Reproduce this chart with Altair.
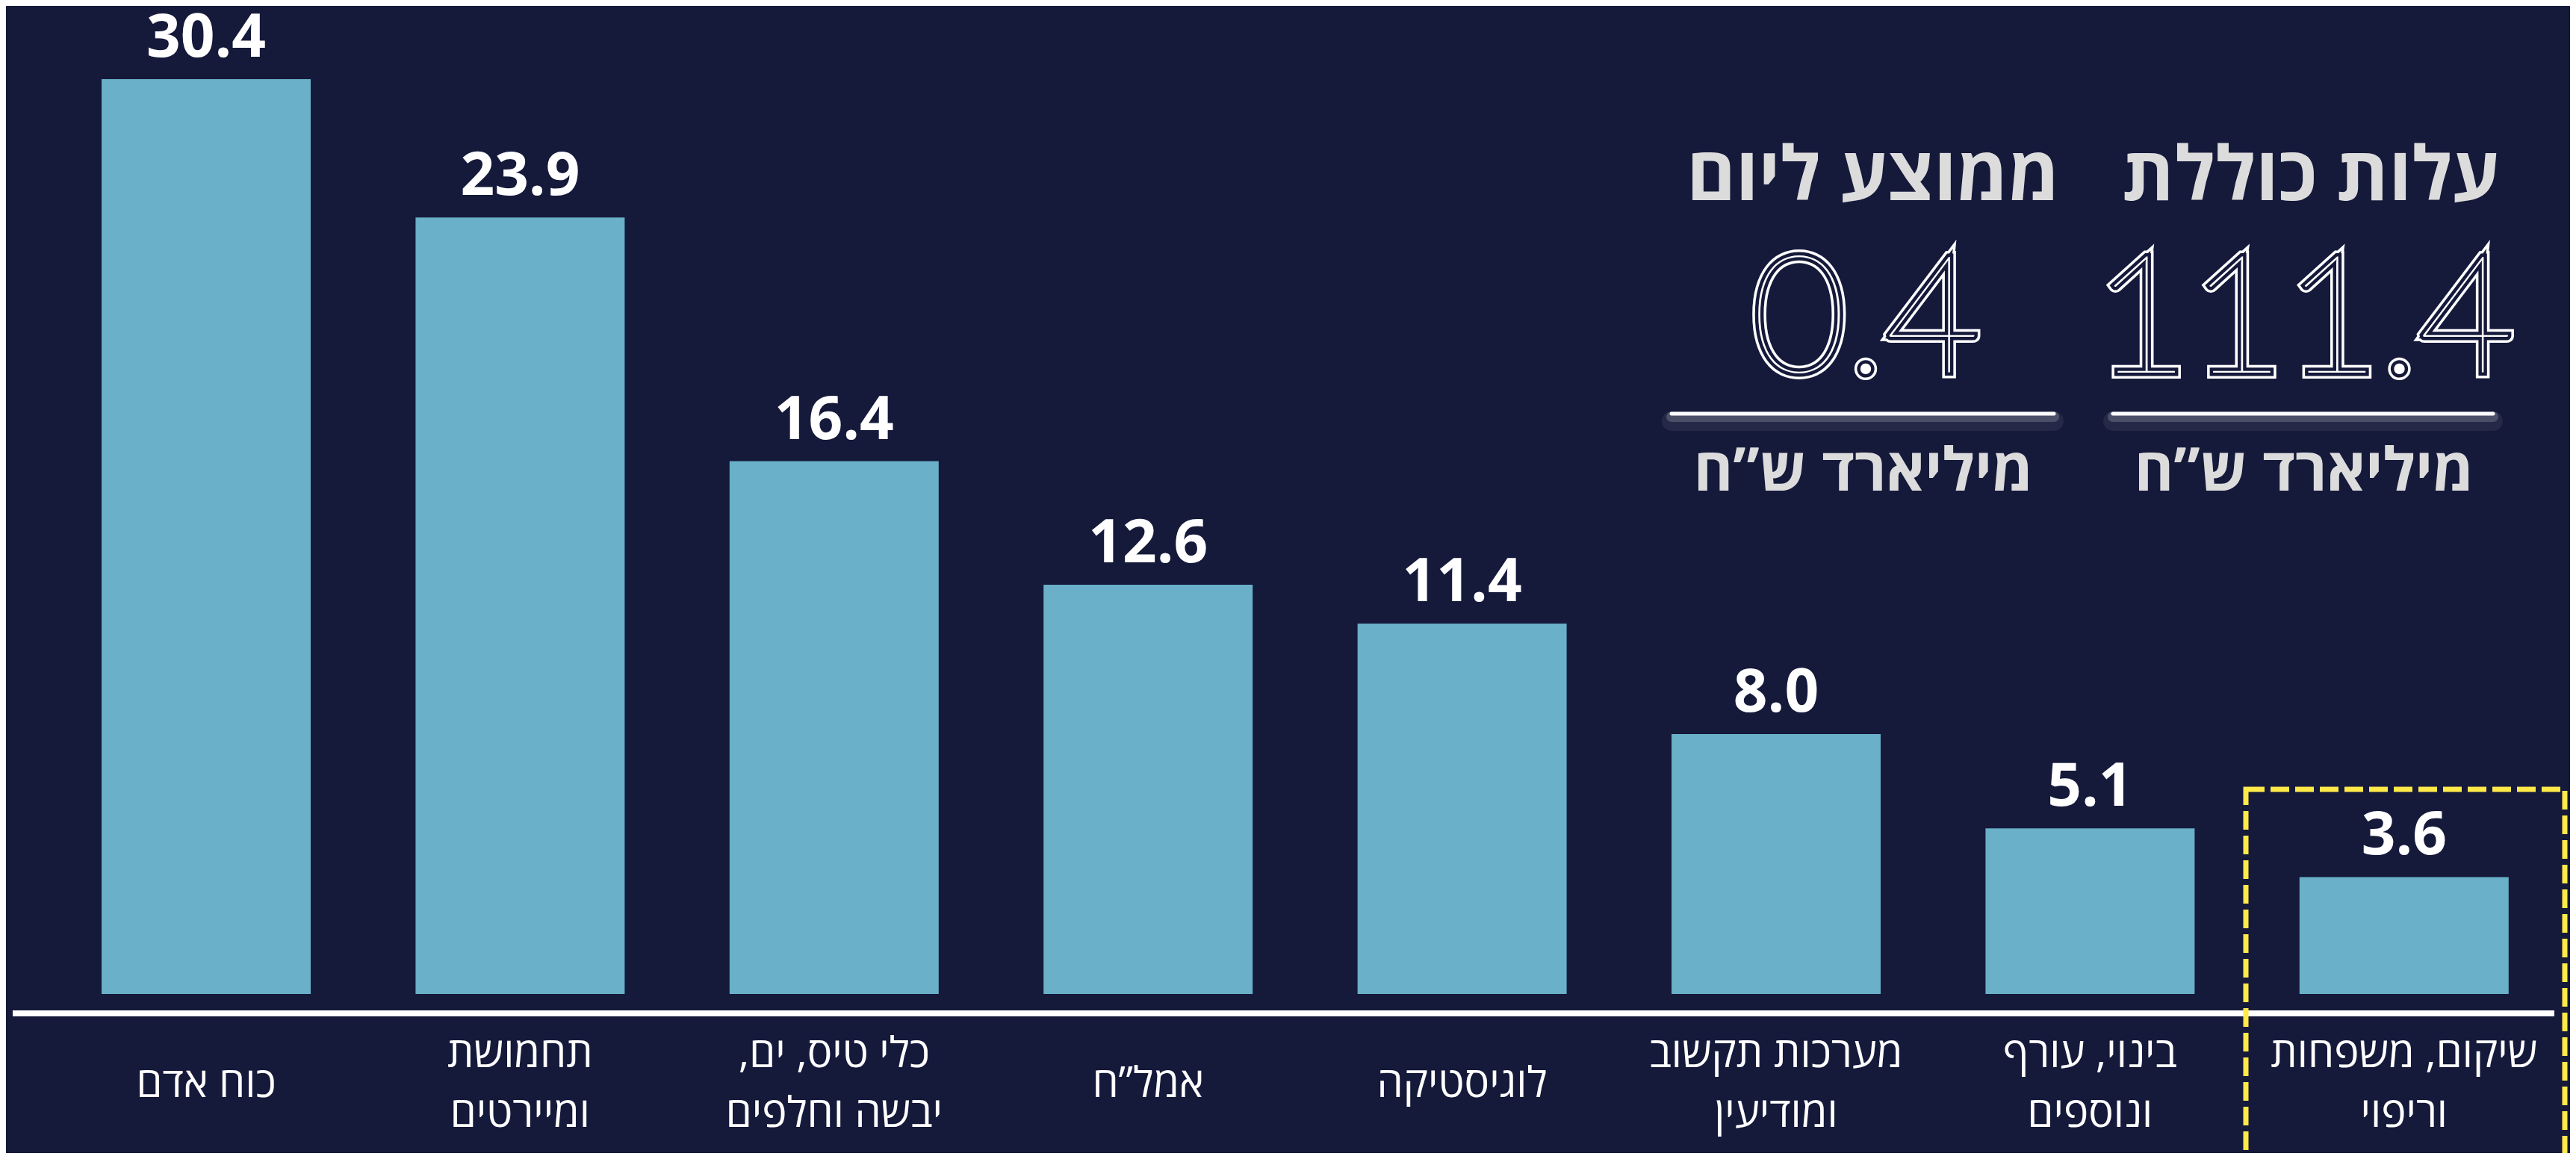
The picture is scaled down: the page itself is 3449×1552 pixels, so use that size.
import altair as alt
import pandas as pd

BG = "#15193a"
BAR = "#69b0c8"
YELLOW = "#ffea4a"
LIGHT = "#dcdcdc"

# ---- data ----
categories = ["כוח אדם", "תחמושת ומיירטים", "כלי טיס, ים, יבשה וחלפים", "אמל”ח",
              "לוגיסטיקה", "מערכות תקשוב ומודיעין", "בינוי, עורף ונוספים", "שיקום, משפחות וריפוי"]
label_lines = [["כוח אדם"], ["תחמושת", "ומיירטים"], ["כלי טיס, ים,\u200f", "יבשה וחלפים"], ["אמל”ח"],
               ["לוגיסטיקה"], ["מערכות תקשוב", "ומודיעין"], ["בינוי, עורף", "ונוספים"], ["שיקום, משפחות", "וריפוי"]]
values = [30.4, 23.9, 16.4, 12.6, 11.4, 8.0, 5.1, 3.6]

headline_titles = ["עלות כוללת", "ממוצע ליום"]
headline_numbers = ["111.4", "0.4"]
headline_units = ["מיליארד ש”ח", "מיליארד ש”ח"]

df = pd.DataFrame({"cat": categories, "lines": label_lines, "value": values})
df["vlabel"] = [f"{v:.1f}" for v in values]

W, H = 3433, 1536

xscale = alt.Scale(domain=categories, range=[57.8, 3421.0], paddingInner=0.334, paddingOuter=0.167)
# the original graphic truncates the tallest bar at the top of the frame
yscale = alt.Scale(domain=[0, 28.16], range=[1323, 98], clamp=True)
X = alt.X("cat:N", scale=xscale, axis=None, sort=None)

base = alt.Chart(df)

bars = base.mark_bar(color=BAR).encode(
    x=X,
    y=alt.Y("value:Q", scale=yscale, axis=None, stack=None),
    y2=alt.datum(0),
)

vlabels = base.mark_text(font="Open Sans", fontWeight="bold", fontSize=80, color="white",
                         baseline="alphabetic", dy=-30).encode(
    x=X, y=alt.Y("value:Q", scale=yscale, axis=None), text="vlabel:N")

clabels = base.transform_calculate(
    ly="1444 - 40 * (length(datum.lines) - 1)"
).mark_text(font="Open Sans", fontSize=56, color="white", baseline="middle",
            lineHeight=80).encode(
    x=X, y=alt.Y("ly:Q", scale=None), text="lines:N")

axis_line = base.mark_rule(color="white", strokeWidth=8).encode(
    x=alt.value(9), x2=alt.value(3412), y=alt.value(1349))

highlight = alt.Chart(pd.DataFrame({"k": [0]})).mark_rect(
    fill=None, fillOpacity=0, stroke=YELLOW, strokeWidth=7, strokeDash=[25, 8]).encode(
    x=alt.value(2999), x2=alt.value(3426), y=alt.value(1049), y2=alt.value(1540))

# headline block
hd = pd.DataFrame({"title": headline_titles, "num": headline_numbers, "unit": headline_units,
                   "cx": [3086, 2500], "ux": [3077, 2487], "nx": [3077, 2490],
                   "l1": [2821, 2230], "l2": [3330, 2742]})
hb = alt.Chart(hd)
HX = alt.X("cx:Q", scale=None)
titles = hb.mark_text(font="Open Sans", fontWeight="bold", fontSize=100, color=LIGHT,
                      baseline="alphabetic").encode(x=HX, y=alt.value(260), text="title:N")
units = hb.mark_text(font="Open Sans", fontWeight="bold", fontSize=80, color=LIGHT,
                     baseline="alphabetic").encode(x=alt.X("ux:Q", scale=None), y=alt.value(649), text="unit:N")
NX = alt.X("nx:Q", scale=None)
num_kw = dict(font="Noto Sans ExtraCondensed Thin, Noto Sans ExtraCondensed, Liberation Sans Narrow, Lato",
              fontWeight=100, fontSize=220, baseline="alphabetic")
numA = hb.mark_text(fill="white", stroke="white", strokeWidth=16, **num_kw).encode(x=NX, y=alt.value(491), text="num:N")
numB = hb.mark_text(fill=BG, stroke=BG, strokeWidth=9, **num_kw).encode(x=NX, y=alt.value(491), text="num:N")
numC = hb.mark_text(fill="white", **num_kw).encode(x=NX, y=alt.value(491), text="num:N")

L1 = alt.X("l1:Q", scale=None)
L2 = alt.X2("l2:Q")
glow1 = hb.mark_rule(color="white", strokeWidth=26, opacity=0.07, strokeCap="round").encode(x=L1, x2=L2, y=alt.value(556))
glow2 = hb.mark_rule(color="white", strokeWidth=14, opacity=0.18, strokeCap="round").encode(x=L1, x2=L2, y=alt.value(550))
glow3 = hb.mark_rule(color="white", strokeWidth=5, strokeCap="round").encode(x=L1, x2=L2, y=alt.value(546))

chart = alt.layer(
    bars, vlabels, clabels, axis_line, highlight,
    glow1, glow2, glow3, titles, units, numA, numB, numC
).resolve_scale(x="independent", y="independent").properties(
    width=W, height=H, background=BG, padding=0, autosize="none"
).configure_view(stroke=None)

chart.save("out.html", embed_options={"renderer": "svg", "actions": False})
